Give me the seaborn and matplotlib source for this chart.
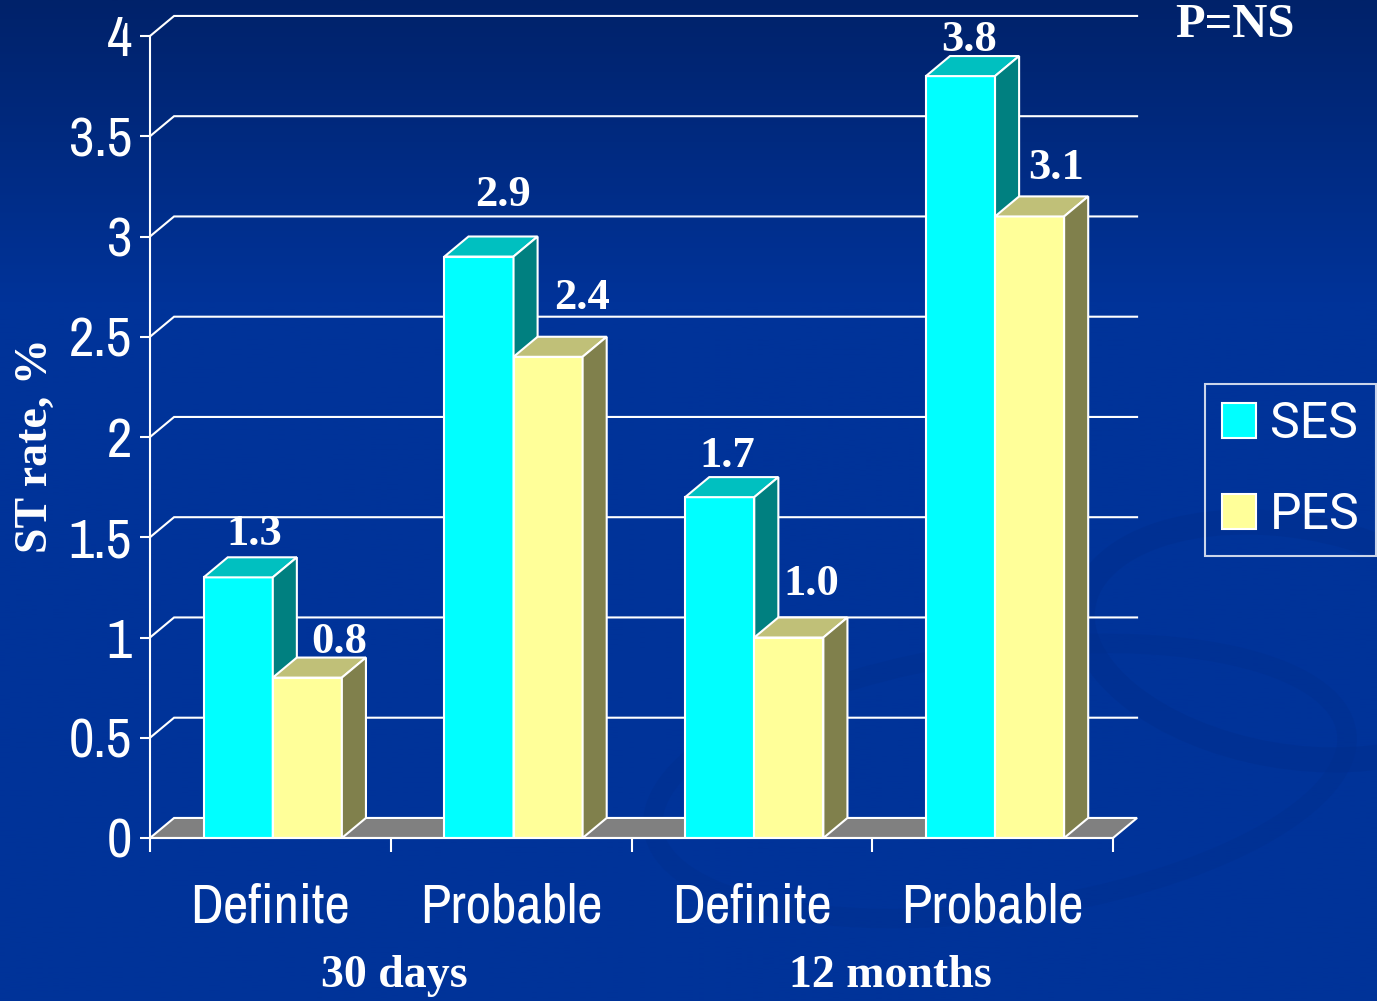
import numpy as np
import pandas as pd
import matplotlib
matplotlib.use("Agg")
import matplotlib.pyplot as plt
import seaborn as sns
from matplotlib.patches import Polygon, Patch, Ellipse
from matplotlib import font_manager, transforms
from matplotlib.font_manager import FontProperties
from matplotlib.colors import to_rgb

# ---------------- data ----------------
categories = ["Definite", "Probable", "Definite", "Probable"]
periods = ["30 days", "30 days", "12 months", "12 months"]
series_names = ["SES", "PES"]
ses_values = [1.3, 2.9, 1.7, 3.8]
pes_values = [0.8, 2.4, 1.0, 3.1]
yticks = [0, 0.5, 1, 1.5, 2, 2.5, 3, 3.5, 4]
ytick_labels = ["0", "0.5", "1", "1.5", "2", "2.5", "3", "3.5", "4"]
group_labels = ["30 days", "12 months"]
ylabel = "ST rate, %"
note = "P=NS"

# ---------------- styles / layout ----------------
front = {"SES": "#00FFFF", "PES": "#FFFF99"}
topc = {"SES": "#00C0C0", "PES": "#C0C078"}
sidec = {"SES": "#008080", "PES": "#80804C"}
# per-label nudges in pixels (x right, y up) relative to top-face centre
label_nudge = {
    "SES": [(4, 12), (12, 30), (-5, 10), (-3, 5)],
    "PES": [(20, 5), (22, 28), (10, 22), (14, 17)],
}

ttf = font_manager.fontManager.ttflist
names = {f.name for f in ttf}


def find_narrow():
    cands = []
    for f in ttf:
        fn = f.fname.lower()
        nm = f.name.lower()
        if "mono" in fn or "serif" in fn or "bold" in fn or "italic" in fn or "oblique" in fn:
            continue
        if f.weight not in (400, "normal", "regular"):
            continue
        score = None
        if "narrow" in nm or "narrow" in fn:
            score = 0
        elif "condensed" in nm or "condensed" in fn or f.stretch in ("condensed", "semi-condensed", "extra-condensed"):
            score = 1
        if score is not None:
            cands.append((score, f.fname))
    cands.sort()
    return cands[0][1] if cands else None


narrow_file = find_narrow()
if narrow_file:
    tick_fp = FontProperties(fname=narrow_file, size=40)
else:
    tick_fp = FontProperties(family="Liberation Sans", size=37)
serif = "Liberation Serif" if "Liberation Serif" in names else "DejaVu Serif"
legend_family = "Roboto" if "Roboto" in names else "DejaVu Sans"

slots = [f"{p} {c}" for p, c in zip(periods, categories)]
df = pd.DataFrame({
    "slot": slots * 2,
    "series": ["SES"] * 4 + ["PES"] * 4,
    "rate": ses_values + pes_values,
})

W, H = 1377, 1001
fig = plt.figure(figsize=(W / 100, H / 100), dpi=100)

# background gradient + faint swirl
bg = fig.add_axes([0, 0, 1, 1], zorder=-10)
c_top = np.array(to_rgb("#00226A"))
c_mid = np.array(to_rgb("#003399"))
t = np.linspace(0, 1, 400)
w = np.clip(t / 0.3, 0, 1)[:, None]
grad = c_top * (1 - w) + c_mid * w
bg.imshow(grad[:, None, :], aspect="auto", extent=[0, W, 0, H], origin="upper")
bg.add_patch(Ellipse((1290, 360), 420, 230, angle=-10, fill=False,
                     ec="#002E8C", lw=18, alpha=0.45))
bg.add_patch(Ellipse((1000, 220), 700, 260, angle=8, fill=False,
                     ec="#002E8C", lw=14, alpha=0.35))
bg.set_xlim(0, W); bg.set_ylim(0, H)
bg.axis("off")

ax = fig.add_axes([150 / W, (H - 838) / H, 963 / W, 802 / H])
ax.patch.set_alpha(0)

sns.barplot(data=df, x="slot", y="rate", hue="series", order=slots,
            hue_order=series_names, palette=[front["SES"], front["PES"]],
            width=0.574, edgecolor="white", linewidth=1.5, saturation=1,
            ax=ax, legend=False, errorbar=None)

dx, dy = 0.1, 0.1
ax.set_xlim(-0.5, 3.5)
ax.set_ylim(0, 4)

bars = list(ax.patches)

# floor
floor = Polygon([(-0.5, 0), (3.5, 0), (3.5 + dx, dy), (-0.5 + dx, dy)],
                closed=True, fc="#808080", ec="white", lw=1.5, zorder=1, clip_on=False)
ax.add_patch(floor)
# back grid lines
for y in yticks[1:]:
    ax.plot([-0.5, -0.5 + dx, 3.5 + dx], [y, y + dy, y + dy], color="white",
            lw=1.5, zorder=1.5, clip_on=False, solid_joinstyle="miter")

# 3D faces + value labels
count = {"SES": 0, "PES": 0}
for b in sorted(bars, key=lambda p: p.get_x()):
    fc = b.get_facecolor()[:3]
    s = "SES" if np.allclose(fc, to_rgb(front["SES"]), atol=0.02) else "PES"
    z = 3 if s == "SES" else 4
    b.set_zorder(z)
    b.set_x(b.get_x() + 0.01)
    x0 = b.get_x(); x1 = x0 + b.get_width(); h = b.get_height()
    top = Polygon([(x0, h), (x1, h), (x1 + dx, h + dy), (x0 + dx, h + dy)],
                  closed=True, fc=topc[s], ec="white", lw=1.5, zorder=z, clip_on=False)
    side = Polygon([(x1, 0), (x1 + dx, dy), (x1 + dx, h + dy), (x1, h)],
                   closed=True, fc=sidec[s], ec="white", lw=1.5, zorder=z, clip_on=False)
    ax.add_patch(top); ax.add_patch(side)
    nx, ny = label_nudge[s][count[s]]
    count[s] += 1
    ax.annotate(f"{h:.1f}", xy=((x0 + x1) / 2 + dx / 2, h + dy),
                xytext=(nx * 0.72, ny * 0.72), textcoords="offset points",
                ha="center", va="baseline",
                fontsize=32, fontweight="bold", color="white", family=serif,
                zorder=6, annotation_clip=False)

# axes styling
for sp in ["top", "right"]:
    ax.spines[sp].set_visible(False)
for sp in ["left", "bottom"]:
    ax.spines[sp].set_color("white")
    ax.spines[sp].set_linewidth(1.5)
    ax.spines[sp].set_zorder(5)
ax.set_yticks(yticks)
ax.set_yticklabels(ytick_labels)
ax.tick_params(axis="y", colors="white", length=7, width=1.5, pad=6)
for lab in ax.get_yticklabels():
    lab.set_fontproperties(tick_fp)
ax.set_xticks(range(len(categories)))
ax.set_xticklabels(categories)
ax.set_xticks([-0.5, 0.5, 1.5, 2.5, 3.5], minor=True)
ax.tick_params(axis="x", which="major", length=0, pad=32, colors="white")
ax.tick_params(axis="x", which="minor", length=10, width=1.5, color="white")
for lab in ax.get_xticklabels():
    lab.set_fontproperties(tick_fp)
ax.set_xlabel("")
ax.set_ylabel("")

# group labels
bt = transforms.blended_transform_factory(ax.transData, fig.transFigure)
for xg, g in zip([0.515, 2.575], group_labels):
    ax.text(xg, 1 - 976 / H, g, transform=bt, ha="center", va="center",
            fontsize=33, fontweight="bold", color="white", family=serif)

fig.text(36 / W, 1 - 446 / H, ylabel, rotation=90, ha="center", va="center",
         fontsize=33, fontweight="bold", color="white", family=serif)
fig.text(1235 / W, 1 - 25 / H, note, ha="center", va="center",
         fontsize=35, fontweight="bold", color="white", family=serif)

handles = [Patch(facecolor=front[s], edgecolor="white", linewidth=1.5) for s in series_names]
leg = fig.legend(handles, series_names, loc="center right",
                 bbox_to_anchor=(1376 / W, 1 - 469.5 / H),
                 prop={"family": legend_family, "size": 36},
                 frameon=True, fancybox=False,
                 handlelength=0.68, handleheight=0.68, handletextpad=0.28,
                 labelspacing=0.86, borderpad=0.33, borderaxespad=0)
leg.get_frame().set_facecolor("none")
leg.get_frame().set_edgecolor("white")
leg.get_frame().set_linewidth(1.5)
for txt in leg.get_texts():
    txt.set_color("white")

fig.savefig("out.png", dpi=100)
